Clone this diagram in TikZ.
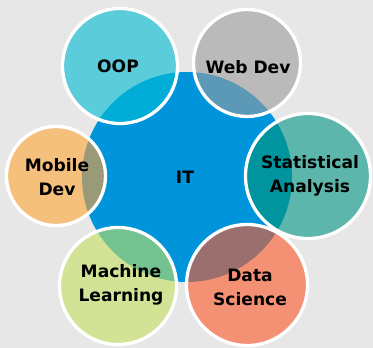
\documentclass[tikz,border=0pt]{standalone}
\usepackage{fontspec}
\setmainfont{DejaVu Sans}
\usetikzlibrary{calc}

\definecolor{bgGray}{HTML}{E7E7E7}
\definecolor{itBlue}{HTML}{0095DA}
\definecolor{oopCol}{HTML}{5BCCDA}
\definecolor{oopOvl}{HTML}{00ADD6}
\definecolor{webCol}{HTML}{BABABA}
\definecolor{webOvl}{HTML}{5C99B6}
\definecolor{statCol}{HTML}{5DB6AB}
\definecolor{statOvl}{HTML}{00949E}
\definecolor{dataCol}{HTML}{F49174}
\definecolor{dataOvl}{HTML}{9C6F6F}
\definecolor{mlCol}{HTML}{D3E396}
\definecolor{mlOvl}{HTML}{74C290}
\definecolor{mobCol}{HTML}{F5BF7C}
\definecolor{mobOvl}{HTML}{9A9A78}

\tikzset{
  lbl/.style={font=\bfseries\fontsize{14.6}{20.5}\selectfont, align=center, text=black},
  ring/.style={draw=white, line width=2.8pt}
}

\begin{document}
\begin{tikzpicture}[x=0.03cm,y=-0.03cm]
  %% background
  \fill[bgGray] (0,0) rectangle (373,348);
  \useasboundingbox (0,0) rectangle (373,348);

  %% the hub
  \coordinate (HUB) at (187,177);
  \fill[itBlue] (HUB) circle (105);

  %% outer circles: centre x / centre y / radius / fill / overlap with hub
  \foreach \x/\y/\r/\c/\o in {120/66/57.5/oopCol/oopOvl, 247/63/53.5/webCol/webOvl,
                              308/176/62.5/statCol/statOvl, 247/285/60.5/dataCol/dataOvl,
                              118/286/58.5/mlCol/mlOvl, 56/176/49.5/mobCol/mobOvl}
  {
    \fill[\c] (\x,\y) circle (\r);
    \begin{scope}
      \clip (HUB) circle (105);
      \fill[\o] (\x,\y) circle (\r);
    \end{scope}
    \draw[ring] (\x,\y) circle (\r);
  }

  %% labels
  \node[lbl] (IT)   at (185,177) {IT};
  \node[lbl] (OOP)  at (118,66)  {OOP};
  \node[lbl] (WEB)  at (248,67)  {Web Dev};
  \node[lbl] (STAT) at (310,176) {Statistical\\Analysis};
  \node[lbl] (DATA) at (250,287) {Data\\Science};
  \node[lbl] (ML)   at (121,285) {Machine\\Learning};
  \node[lbl] (MOB)  at (57,177)  {Mobile\\Dev};
\end{tikzpicture}
\end{document}
